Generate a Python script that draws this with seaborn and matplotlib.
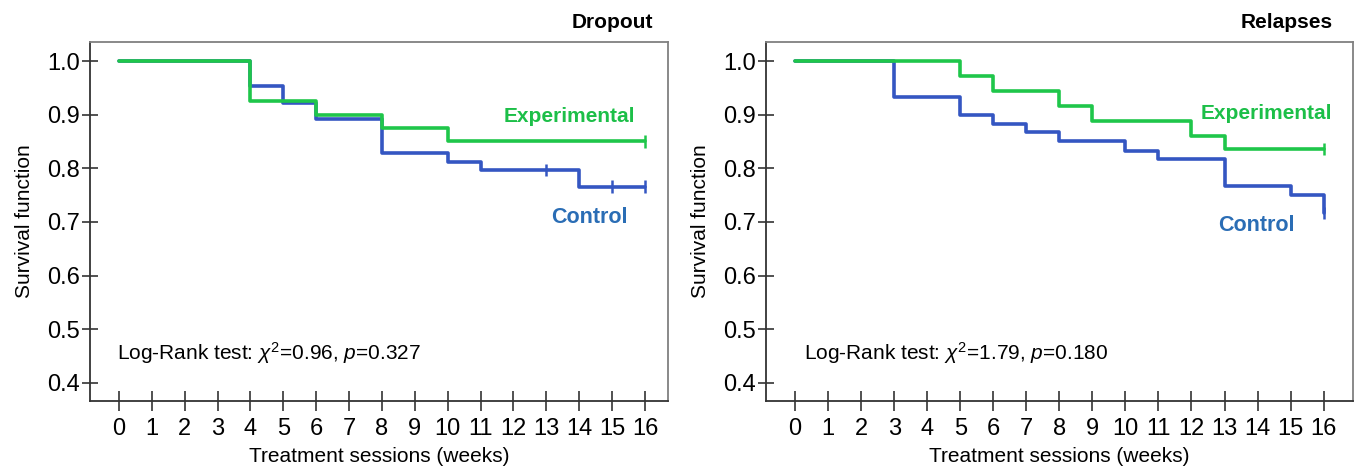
import numpy as np
import pandas as pd
import matplotlib
matplotlib.use("Agg")
import matplotlib.pyplot as plt
import seaborn as sns

# ---------------- data ----------------
weeks = list(range(0, 17))

drop_exp_t = [0, 4, 6, 8, 10, 16]
drop_exp_s = [1.0, 0.925, 0.900, 0.875, 0.850, 0.850]
drop_exp_cens_t = [16]
drop_exp_cens_s = [0.850]

drop_ctl_t = [0, 4, 5, 6, 8, 10, 11, 14, 16]
drop_ctl_s = [1.0, 0.953, 0.922, 0.891, 0.828, 0.812, 0.797, 0.766, 0.766]
drop_ctl_cens_t = [13, 15, 16]
drop_ctl_cens_s = [0.797, 0.766, 0.766]

rel_exp_t = [0, 5, 6, 8, 9, 12, 13, 16]
rel_exp_s = [1.0, 0.972, 0.944, 0.917, 0.889, 0.861, 0.836, 0.836]
rel_exp_cens_t = [16]
rel_exp_cens_s = [0.836]

rel_ctl_t = [0, 3, 5, 6, 7, 8, 10, 11, 13, 15, 16]
rel_ctl_s = [1.0, 0.933, 0.900, 0.883, 0.867, 0.850, 0.833, 0.817, 0.767, 0.750, 0.717]
rel_ctl_cens_t = [16]
rel_ctl_cens_s = [0.717]

yticks = [0.4, 0.5, 0.6, 0.7, 0.8, 0.9, 1.0]
titles = ["Dropout", "Relapses"]
stats = [r"Log-Rank test: $\chi^{2}$=0.96, $\it{p}$=0.327",
         r"Log-Rank test: $\chi^{2}$=1.79, $\it{p}$=0.180"]

GREEN = "#1fc64a"
BLUE = "#3456c2"
GREEN_TXT = "#1cbf48"
BLUE_TXT = "#2a6db5"

sns.set_style("white")
plt.rcParams["font.family"] = ["Liberation Sans", "DejaVu Sans"]
plt.rcParams["mathtext.fontset"] = "custom"
plt.rcParams["mathtext.rm"] = "Liberation Sans"
plt.rcParams["mathtext.it"] = "Liberation Sans:italic"
plt.rcParams["text.color"] = "black"
plt.rcParams["axes.labelcolor"] = "black"
plt.rcParams["xtick.color"] = "black"
plt.rcParams["ytick.color"] = "black"

W, H = 1356, 470
fig = plt.figure(figsize=(W / 100, H / 100), dpi=100)
ax1 = fig.add_axes([90 / W, 1 - 401 / H, (668 - 90) / W, (401 - 42) / H])
ax2 = fig.add_axes([766 / W, 1 - 401 / H, (1353 - 766) / W, (401 - 42) / H])

panels = [
    (ax1, drop_ctl_t, drop_ctl_s, drop_exp_t, drop_exp_s,
     drop_ctl_cens_t, drop_ctl_cens_s, drop_exp_cens_t, drop_exp_cens_s,
     (-0.88, 16.7), (13.7, 0.897), (14.3, 0.709), -0.06, 653),
    (ax2, rel_ctl_t, rel_ctl_s, rel_exp_t, rel_exp_s,
     rel_ctl_cens_t, rel_ctl_cens_s, rel_exp_cens_t, rel_exp_cens_s,
     (-0.88, 16.89), (14.26, 0.903), (13.97, 0.694), 0.27, 1333),
]

for i, (ax, ct, cs, et, es, cct, ccs, ect, ecs, xl, exp_pos, ctl_pos, stat_x, title_x) in enumerate(panels):
    df = pd.concat([
        pd.DataFrame({"t": ct, "s": cs, "g": "Control"}),
        pd.DataFrame({"t": et, "s": es, "g": "Experimental"}),
    ], ignore_index=True)
    sns.lineplot(data=df, x="t", y="s", hue="g", palette={"Control": BLUE, "Experimental": GREEN},
                 hue_order=["Control", "Experimental"], drawstyle="steps-post",
                 linewidth=2.6, legend=False, ax=ax, estimator=None, sort=False)
    cdf = pd.concat([
        pd.DataFrame({"t": cct, "s": ccs, "g": "Control"}),
        pd.DataFrame({"t": ect, "s": ecs, "g": "Experimental"}),
    ], ignore_index=True)
    sns.scatterplot(data=cdf, x="t", y="s", hue="g", palette={"Control": BLUE, "Experimental": GREEN},
                    marker="|", s=80, linewidth=1.8, legend=False, ax=ax, zorder=3)

    ax.set_xlim(*xl)
    ax.set_ylim(0.366, 1.0355)
    ax.set_xticks(weeks)
    ax.set_xticklabels([str(w) for w in weeks], fontsize=17)
    ax.set_yticks(yticks)
    ax.set_yticklabels([f"{v:.1f}" for v in yticks], fontsize=17)
    ax.tick_params(axis="x", bottom=True, direction="inout", length=15, width=1.2,
                   color="#333333", pad=5)
    ax.tick_params(axis="y", left=True, direction="inout", length=12, width=1.2,
                   color="#333333", pad=1)
    for side, sp in ax.spines.items():
        sp.set_visible(True)
        sp.set_linewidth(1.3)
        sp.set_color("#333333" if side in ("left", "bottom") else "#808080")
    ax.set_xlabel("Treatment sessions (weeks)", fontsize=15, labelpad=5)
    ax.set_ylabel("Survival function", fontsize=15, labelpad=10)
    fig.text(title_x / W, 1 - 22 / H, titles[i], fontsize=15, fontweight="bold",
             ha="right", va="center")
    ax.text(stat_x, 0.456, stats[i], fontsize=15, va="center", ha="left")
    ax.text(exp_pos[0], exp_pos[1], "Experimental", color=GREEN_TXT, fontsize=15,
            fontweight="bold", ha="center", va="center")
    ax.text(ctl_pos[0], ctl_pos[1], "Control", color=BLUE_TXT, fontsize=15.5,
            fontweight="bold", ha="center", va="center")

fig.savefig("out.png", dpi=100)
